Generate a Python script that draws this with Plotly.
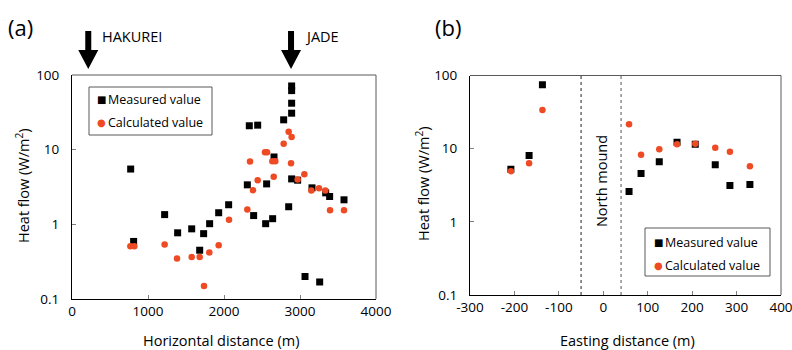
import plotly.graph_objects as go

# ---------------- data ----------------
# Panel (a): heat flow vs horizontal distance
a_meas_x = [772, 811, 1219, 1390, 1575, 1732, 1680, 1811, 1930, 2061,
            2307, 2390, 2333, 2443, 2561, 2548, 2640, 2658, 2785, 2890,
            2890, 2890, 2890, 2851, 2890, 2969, 3066, 3158, 3259, 3338,
            3390, 3579]
a_meas_y = [5.5, 0.59, 1.35, 0.77, 0.87, 0.75, 0.45, 1.02, 1.43, 1.83,
            3.38, 1.31, 20.9, 21.3, 3.48, 1.02, 1.19, 7.98, 25.1, 71.3,
            61.8, 41.9, 30.8, 1.72, 4.06, 3.9, 0.2, 3.08, 0.169, 2.64,
            2.36, 2.13]
a_calc_x = [768, 820, 1219, 1382, 1575, 1680, 1737, 1807, 1930, 2066,
            2307, 2342, 2382, 2443, 2539, 2566, 2636, 2675, 2654, 2785,
            2851, 2890, 2882, 2969, 3057, 3149, 3250, 3333, 3395, 3579]
a_calc_y = [0.51, 0.51, 0.536, 0.348, 0.366, 0.366, 0.149, 0.419, 0.525, 1.15,
            1.58, 6.92, 2.87, 3.9, 9.2, 9.2, 6.99, 6.99, 4.33, 12.0,
            17.4, 14.8, 6.58, 3.98, 4.69, 2.84, 3.05, 2.84, 1.54, 1.54]

# Panel (b): heat flow vs easting distance
b_x = [-208, -167, -137, 58, 85, 126, 166, 207, 252, 285, 330]
b_meas_y = [5.23, 8.04, 74.6, 2.6, 4.56, 6.65, 12.2, 11.5, 6.05, 3.13, 3.23]
b_calc_y = [4.91, 6.31, 33.7, 21.5, 8.28, 9.8, 11.5, 11.7, 10.3, 9.1, 5.74]

# vent sites marked with arrows in panel (a)
arrow_x = [214, 2882]
arrow_labels = ["HAKUREI", "JADE"]

# North mound boundaries in panel (b)
mound_bounds = [-50, 40]

# tick labels
y_tickvals = [0.1, 1, 10, 100]
y_ticktext = ["0.1", "1", "10", "100"]
a_tickvals = [0, 1000, 2000, 3000, 4000]
a_ticktext = ["0", "1000", "2000", "3000", "4000"]
b_tickvals = [-300, -200, -100, 0, 100, 200, 300, 400]
b_ticktext = ["-300", "-200", "-100", "0", "100", "200", "300", "400"]

series_names = ["Measured value", "Calculated value"]
y_title = "Heat flow (W/m<sup>2</sup>)"
x_titles = ["Horizontal distance (m)", "Easting distance (m)"]

# ---------------- styling / layout helpers ----------------
W, H = 792, 350
L, R, T, B = 72, 11, 75, 51
PW, PH = W - L - R, H - T - B
FONT = "Open Sans"
RED = "#EE4A24"
BLACK = "#000000"
TICK_SIZE = 13.5
TITLE_SIZE = 14.5


def px(x):
    return (x - L) / PW


def py(y):
    return (H - B - y) / PH


A_LEFT, A_RIGHT = 72, 376
B_LEFT, B_RIGHT = 470, 781
B_BOTTOM = 295

fig = go.Figure()

fig.add_trace(go.Scatter(x=a_meas_x, y=a_meas_y, mode="markers", name=series_names[0],
                         marker=dict(symbol="square", size=7, color=BLACK),
                         xaxis="x", yaxis="y", showlegend=False))
fig.add_trace(go.Scatter(x=a_calc_x, y=a_calc_y, mode="markers", name=series_names[1],
                         marker=dict(symbol="circle", size=6.5, color=RED),
                         xaxis="x", yaxis="y", showlegend=False))
fig.add_trace(go.Scatter(x=b_x, y=b_meas_y, mode="markers", name=series_names[0],
                         marker=dict(symbol="square", size=7, color=BLACK),
                         xaxis="x2", yaxis="y2", showlegend=False))
fig.add_trace(go.Scatter(x=b_x, y=b_calc_y, mode="markers", name=series_names[1],
                         marker=dict(symbol="circle", size=6.5, color=RED),
                         xaxis="x2", yaxis="y2", showlegend=False))

common_x = dict(showgrid=False, zeroline=False, showline=True, linecolor=BLACK, linewidth=1,
                ticks="inside", ticklen=4, tickcolor="#808080",
                tickfont=dict(family=FONT, size=TICK_SIZE, color="#000"),
                ticklabelstandoff=0, ticklabeloverflow="allow")
common_y = dict(type="log", range=[-1, 2], tickvals=y_tickvals, ticktext=y_ticktext,
                showgrid=False, zeroline=False, showline=True, linecolor=BLACK, linewidth=1,
                ticks="inside", ticklen=4, tickcolor="#808080",
                tickfont=dict(family=FONT, size=TICK_SIZE, color="#000"),
                ticklabelstandoff=9, ticklabeloverflow="allow")

fig.update_layout(
    width=W, height=H,
    margin=dict(l=L, r=R, t=T, b=B, autoexpand=False),
    paper_bgcolor="white", plot_bgcolor="white",
    font=dict(family=FONT, size=13, color="#000"),
    showlegend=False,
    xaxis=dict(domain=[0, px(A_RIGHT)], range=[0, 4000], tickvals=a_tickvals, ticktext=a_ticktext,
               anchor="y", **common_x),
    yaxis=dict(domain=[0, 1], anchor="x", **common_y),
    xaxis2=dict(domain=[px(B_LEFT), 1], range=[-300, 400], tickvals=b_tickvals, ticktext=b_ticktext,
                anchor="y2", **common_x),
    yaxis2=dict(domain=[py(B_BOTTOM), py(75.5)], anchor="x2", **common_y),
)

shapes = []
annotations = []

# axis titles
for xc, txt in zip([221, 627], x_titles):
    annotations.append(dict(text=txt, xref="paper", yref="paper", x=px(xc), y=py(340),
                            xanchor="center", yanchor="middle", showarrow=False,
                            font=dict(family=FONT, size=TITLE_SIZE, color="#000")))
for xc, yc in [(22, 186), (422, 184)]:
    annotations.append(dict(text=y_title, xref="paper", yref="paper", x=px(xc), y=py(yc),
                            xanchor="center", yanchor="middle", textangle=-90, showarrow=False,
                            font=dict(family=FONT, size=TITLE_SIZE, color="#000")))

# frame top/right lines
for xa, ya in [("x", "y"), ("x2", "y2")]:
    shapes.append(dict(type="line", xref=f"{xa} domain", yref=f"{ya} domain",
                       x0=0, x1=1, y0=1, y1=1, line=dict(color="#595959", width=1)))
    shapes.append(dict(type="line", xref=f"{xa} domain", yref=f"{ya} domain",
                       x0=1, x1=1, y0=0, y1=1, line=dict(color="#595959", width=1)))

# North mound dotted boundaries
for xb, col in zip(mound_bounds, ["#222222", "#555555"]):
    shapes.append(dict(type="line", xref="x2", yref="y2 domain", x0=xb, x1=xb, y0=0, y1=1,
                       line=dict(color=col, width=1, dash="dot")))
annotations.append(dict(text="North mound", xref="x2", yref="paper",
                        x=(mound_bounds[0] + mound_bounds[1]) / 2, y=py(181),
                        textangle=-90, showarrow=False,
                        font=dict(family=FONT, size=14.5, color="#000"),
                        xanchor="center", yanchor="middle"))

# arrows for vent sites (panel a)
m_per_px = 4000 / (A_RIGHT - A_LEFT)
arrow_outline = [(-3, 31), (3, 31), (3, 50), (10, 50), (0, 69), (-10, 50), (-3, 50)]
for xm, lab in zip(arrow_x, arrow_labels):
    cx = A_LEFT + xm / m_per_px
    pts = [(px(cx + dx), py(yy)) for dx, yy in arrow_outline]
    path = "M " + " L ".join(f"{a:.5f},{b:.5f}" for a, b in pts) + " Z"
    shapes.append(dict(type="path", xref="paper", yref="paper", path=path,
                       fillcolor=BLACK, line=dict(color=BLACK, width=0)))
    annotations.append(dict(text=lab, xref="paper", yref="paper", x=px(cx + 12), y=py(37),
                            xanchor="left", yanchor="middle", showarrow=False,
                            font=dict(family=FONT, size=14.5, color="#000")))

# panel labels
annotations.append(dict(text="(a)", xref="paper", yref="paper", x=px(6), y=py(27),
                        xanchor="left", yanchor="middle", showarrow=False,
                        font=dict(family=FONT, size=22, color="#000")))
annotations.append(dict(text="(b)", xref="paper", yref="paper", x=px(433), y=py(27),
                        xanchor="left", yanchor="middle", showarrow=False,
                        font=dict(family=FONT, size=22, color="#000")))


# custom legends (box, symbol, text)
def add_legend(x0, y0, x1, y1, sym_x, text_x, rows):
    shapes.append(dict(type="rect", xref="paper", yref="paper",
                       x0=px(x0), x1=px(x1), y0=py(y1), y1=py(y0),
                       line=dict(color="#595959", width=1), fillcolor="white", layer="above"))
    glyphs = [("■", BLACK, 10), ("●", RED, 10)]
    for (g, c, s), name, ry in zip(glyphs, series_names, rows):
        annotations.append(dict(text=g, xref="paper", yref="paper", x=px(sym_x), y=py(ry),
                                xanchor="center", yanchor="middle", showarrow=False,
                                font=dict(family="DejaVu Sans", size=s, color=c)))
        annotations.append(dict(text=name, xref="paper", yref="paper", x=px(text_x), y=py(ry),
                                xanchor="left", yanchor="middle", showarrow=False,
                                font=dict(family=FONT, size=12.5, color="#000")))


add_legend(89, 87, 212, 135, 101, 106, [99.5, 122.5])
add_legend(645, 228, 770, 276, 658, 663, [242.5, 265])

fig.update_layout(shapes=shapes, annotations=annotations)

fig.write_html("out.html", config={"displayModeBar": False},
               post_script="document.body.style.margin='0';document.body.style.overflow='hidden';")
